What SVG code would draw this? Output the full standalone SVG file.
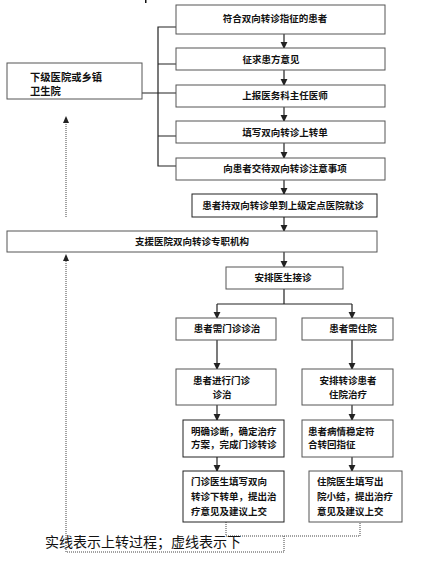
<svg xmlns="http://www.w3.org/2000/svg" width="434" height="565" viewBox="0 0 434 565">
<defs>
<marker id="arr" viewBox="0 0 8 8" refX="7" refY="4" markerWidth="6" markerHeight="6" orient="auto"><path d="M0,0 L8,4 L0,8 z" fill="#222"/></marker>
<style>
.box{fill:#fff;stroke:#555;stroke-width:1}
.dk{stroke:#222}
.t{font-family:"Noto Sans CJK SC","Noto Sans CJK JP",sans-serif;font-size:9.5px;font-weight:bold;fill:#111}
.lg{font-size:10.3px}
.m{text-anchor:middle}
.ln{fill:none;stroke:#222;stroke-width:1.2}
.dt{fill:none;stroke:#444;stroke-width:1;stroke-dasharray:1,1}
.note{font-family:"Noto Sans CJK SC",sans-serif;font-size:14px;fill:#111}
</style>
</defs>
<rect width="434" height="565" fill="#fff"/>
<rect x="145" y="0" width="1.5" height="3" fill="#111"/>

<g id="connectors">
<path class="ln" d="M176,27 H158 V166 H176 M158,64 H176 M158,93 H176 M158,136 H176 M142,93 H158"/>
<path class="ln" marker-end="url(#arr)" d="M284,34 V48"/>
<path class="ln" marker-end="url(#arr)" d="M284,70 V85"/>
<path class="ln" marker-end="url(#arr)" d="M284,107 V121"/>
<path class="ln" marker-end="url(#arr)" d="M284,143 V158"/>
<path class="ln" marker-end="url(#arr)" d="M284,180 V194"/>
<path class="ln" marker-end="url(#arr)" d="M284,217 V231"/>
<path class="ln" marker-end="url(#arr)" d="M284,252 V267"/>
<path class="ln" d="M284,289 V304 M217,304 H352"/>
<path class="ln" marker-end="url(#arr)" d="M217,304 V318"/>
<path class="ln" marker-end="url(#arr)" d="M352,304 V318"/>
<path class="ln" marker-end="url(#arr)" d="M217,340 V369"/>
<path class="ln" marker-end="url(#arr)" d="M352,340 V369"/>
<path class="ln" marker-end="url(#arr)" d="M217,405 V420"/>
<path class="ln" marker-end="url(#arr)" d="M352,405 V420"/>
<path class="ln" marker-end="url(#arr)" d="M217,457 V471"/>
<path class="ln" marker-end="url(#arr)" d="M352,457 V471"/>
<path class="dt" d="M226,522 V536 H360 V522 M284,536 V552 H66 V258"/>
<path class="dt" d="M66,217 V121"/>
<path d="M63,123 L66,116 L69,123 z" fill="#222"/>
<path d="M63,261 L66,254 L69,261 z" fill="#222"/>
</g>

<g id="n1"><rect class="box" x="176" y="5" width="209" height="29"/><text class="t m" x="275" y="22">符合双向转诊指征的患者</text></g>
<g id="n2"><rect class="box" x="176" y="48" width="209" height="22"/><text class="t m" x="271" y="63">征求患方意见</text></g>
<g id="n3"><rect class="box" x="176" y="85" width="209" height="22"/><text class="t m" x="285" y="99">上报医务科主任医师</text></g>
<g id="n4"><rect class="box" x="176" y="121" width="209" height="22"/><text class="t m" x="285" y="136">填写双向转诊上转单</text></g>
<g id="n5"><rect class="box" x="176" y="158" width="209" height="22"/><text class="t m" x="285" y="172">向患者交待双向转诊注意事项</text></g>
<g id="left"><rect class="box" x="7" y="63" width="135" height="36"/><text class="t lg" x="30" y="81">下级医院或乡镇</text><text class="t lg" x="30" y="95">卫生院</text></g>
<g id="n6"><rect class="box dk" x="192" y="194" width="185" height="23"/><text class="t m" x="283" y="209">患者持双向转诊单到上级定点医院就诊</text></g>
<g id="n7"><rect class="box" x="7" y="231" width="370" height="21"/><text class="t m" x="192" y="245">支援医院双向转诊专职机构</text></g>
<g id="n8"><rect class="box" x="226" y="267" width="117" height="22"/><text class="t m" x="283" y="281">安排医生接诊</text></g>
<g id="n9"><rect class="box" x="176" y="318" width="100" height="22"/><text class="t m" x="227" y="332">患者需门诊诊治</text></g>
<g id="n10"><rect class="box" x="302" y="318" width="91" height="22"/><text class="t m" x="353" y="332">患者需住院</text></g>
<g id="n11"><rect class="box" x="176" y="369" width="100" height="36"/><text class="t" x="193" y="384">患者进行门诊</text><text class="t m" x="222" y="398">诊治</text></g>
<g id="n12"><rect class="box" x="302" y="369" width="91" height="36"/><text class="t m" x="348" y="384">安排转诊患者</text><text class="t m" x="348" y="398">住院治疗</text></g>
<g id="n13"><rect class="box dk" x="183" y="420" width="101" height="37"/><text class="t" x="191" y="435">明确诊断，确定治疗</text><text class="t" x="191" y="448">方案，完成门诊转诊</text></g>
<g id="n14"><rect class="box" x="302" y="420" width="91" height="37"/><text class="t" x="308" y="435">患者病情稳定符</text><text class="t" x="308" y="448">合转回指征</text></g>
<g id="n15"><rect class="box dk" x="183" y="471" width="101" height="51"/><text class="t" x="191" y="485">门诊医生填写双向</text><text class="t" x="191" y="500">转诊下转单，提出治</text><text class="t" x="191" y="515">疗意见及建议上交</text></g>
<g id="n16"><rect class="box" x="309" y="471" width="93" height="51"/><text class="t" x="317" y="485">住院医生填写出</text><text class="t" x="317" y="500">院小结，提出治疗</text><text class="t" x="317" y="515">意见及建议上交</text></g>
<text class="note" x="45" y="547">实线表示上转过程；虚线表示下</text>
</svg>
